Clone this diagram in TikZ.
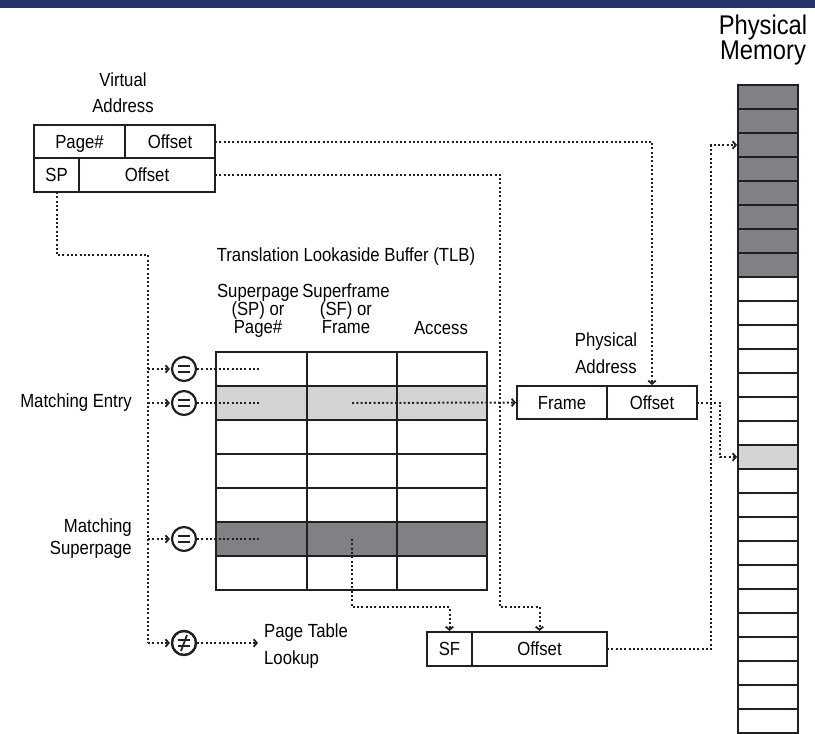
\documentclass[tikz,border=0pt]{standalone}
\usepackage{fontspec}
\setmainfont{Liberation Sans}[FakeStretch=0.88]
\usetikzlibrary{arrows.meta}
\definecolor{navy}{RGB}{40,52,110}
\definecolor{dgrey}{RGB}{128,129,132}
\definecolor{lgrey}{RGB}{211,212,214}
\definecolor{ink}{RGB}{35,31,32}
\begin{document}
\begin{tikzpicture}[x=1pt,y=-1pt,font=\fontsize{19}{22}\selectfont,
  box/.style={draw=ink,line width=2pt,inner sep=0pt,outer sep=0pt,text height=13.5pt,text depth=0pt,anchor=center},
  mem/.style={draw=ink,line width=1.6pt,inner sep=0pt,outer sep=0pt,minimum width=60pt,minimum height=24pt},
  dot/.style={draw=ink,line width=2pt,dash pattern=on 2pt off 2.3pt},
  dotarrow/.style={dot,shorten >=1pt,-{Straight Barb[length=3.2pt,width=7.5pt,line width=1.8pt]}},
  eq/.style={circle,draw=ink,line width=2.2pt,minimum size=24pt,inner sep=0pt,
    path picture={\draw[ink,line width=2.2pt]
      ([xshift=-6pt,yshift=-3pt]path picture bounding box.center) -- ++(12pt,0)
      ([xshift=-6pt,yshift=3pt]path picture bounding box.center) -- ++(12pt,0);}},
  neq/.style={eq,path picture={\draw[ink,line width=1.8pt]
      ([xshift=-3pt,yshift=-8pt]path picture bounding box.center) -- ++(6pt,16pt);}},
  lbl/.style={anchor=base,inner sep=0pt},
  lble/.style={anchor=base east,inner sep=0pt},
  lblw/.style={anchor=base west,inner sep=0pt},
  big/.style={anchor=base,inner sep=0pt,font=\fontsize{27}{29}\selectfont}]
\useasboundingbox (0,0) rectangle (815,734);
\fill[navy] (0,0) rectangle (815,8);

% Physical memory
\foreach \i in {0,...,27} {
  \ifnum\i<8 \def\mf{dgrey}\else\ifnum\i=15 \def\mf{lgrey}\else\def\mf{white}\fi\fi
  \node[mem,fill=\mf] (m\i) at (768,{97+24*\i}) {};
}
\draw[ink,line width=2.6pt] (m0.north west) -- (m27.south west);
\draw[ink,line width=2.6pt] (m0.north east) -- (m27.south east);
\node[big] (lPhys) at (763,34) {Physical};
\node[big] (lMem) at (763,59) {Memory};

% Virtual address
\node[lbl] (lVirt) at (123,86) {Virtual};
\node[lbl] (lVAddr) at (123,112) {Address};
\node[box,minimum width=91pt,minimum height=33pt] (vaPage) at (79.5,141.5) {Page\#};
\node[box,minimum width=90pt,minimum height=33pt] (vaOffA) at (170,141.5) {Offset};
\node[box,minimum width=45pt,minimum height=34pt] (vaSP) at (56.5,175) {SP};
\node[box,minimum width=136pt,minimum height=34pt] (vaOffB) at (147,175) {Offset};

% TLB
\node[lbl] (lTLB) at (346,261) {Translation Lookaside Buffer (TLB)};
\node[lbl] (h1a) at (258,297) {Superpage};
\node[lbl] (h1b) at (258,315) {(SP) or};
\node[lbl] (h1c) at (258,333) {Page\#};
\node[lbl] (h2a) at (346,297) {Superframe};
\node[lbl] (h2b) at (346,315) {(SF) or};
\node[lbl] (h2c) at (346,333) {Frame};
\node[lbl] (h3) at (441,334) {Access};
\foreach \r/\f in {1/white,2/lgrey,3/white,4/white,5/white,6/dgrey,7/white} {
  \foreach \c/\x/\w in {1/261.5/91,2/352/90,3/442/90} {
    \node[box,fill=\f,minimum width=\w,minimum height=34pt] (t\r\c) at (\x,{335+34*\r}) {};
  }
}

% Physical address
\node[lbl] (lPA1) at (606,346) {Physical};
\node[lbl] (lPA2) at (606,373) {Address};
\node[box,minimum width=90pt,minimum height=33pt] (paFrame) at (562,402.5) {Frame};
\node[box,minimum width=90pt,minimum height=33pt] (paOff) at (652,402.5) {Offset};

% Superframe address
\node[box,minimum width=45pt,minimum height=34pt] (sfSF) at (449.5,649) {SF};
\node[box,minimum width=135pt,minimum height=34pt] (sfOff) at (539.5,649) {Offset};

% Comparators
\node[eq] (eq1) at (184,369) {};
\node[eq] (eq2) at (184,403) {};
\node[eq] (eq3) at (184,539) {};
\node[eq] (ne) at (184,643) {};
\node[neq] (neSlash) at (ne.center) {};

% Left labels
\node[lble] (lME) at (132,407) {Matching Entry};
\node[lble] (lMS1) at (132,532) {Matching};
\node[lble] (lMS2) at (132,554) {Superpage};
\node[lblw] (lPT1) at (264,637) {Page Table};
\node[lblw] (lPT2) at (264,664) {Lookup};

% Connectors
\coordinate (bus) at (148,255);
\coordinate (busEnd) at (148,643);
\draw[dot] (vaSP.south) |- (bus) -- (busEnd);
\draw[dotarrow] (busEnd) -- (ne.west);
\foreach \e in {eq1,eq2,eq3} \draw[dotarrow] (bus |- \e) -- (\e.west);
\foreach \e/\t in {eq1/t11,eq2/t21,eq3/t61} \draw[dot] (\e.east) -- (\t.center);
\coordinate (ptEnd) at (259,643);
\draw[dotarrow] (ne.east) -- (ptEnd);

\draw[dotarrow] (vaOffA.east) -| (paOff.north);
\coordinate (j1) at (500,607);
\draw[dotarrow] (vaOffB.east) -| (j1) -| (sfOff.north);
\draw[dotarrow] (t62.center) |- (sfSF.north |- j1) -- (sfSF.north);
\draw[dotarrow] (t22.center) -- (paFrame.west);
\coordinate (j2) at (720,457);
\draw[dotarrow] (paOff.east) -| (j2) -- (m15.west);
\coordinate (j3) at (711,145);
\draw[dotarrow] (sfOff.east) -| (j3) -- (m2.west);
\end{tikzpicture}
\end{document}
